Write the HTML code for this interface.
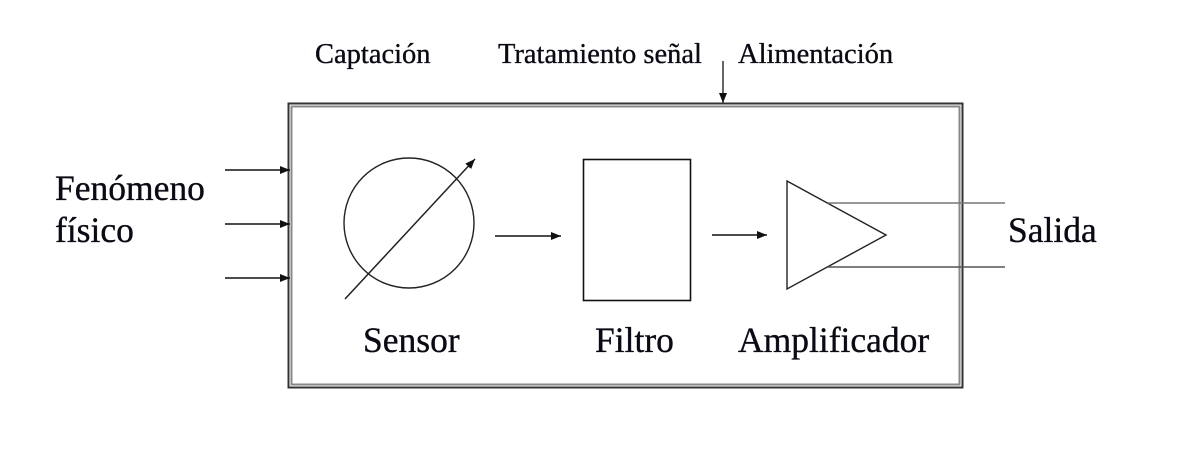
<!DOCTYPE html>
<html>
<head>
<meta charset="utf-8">
<style>
html,body{margin:0;padding:0;background:#fff;}
svg{display:block;}
text{font-family:"Liberation Serif","Times New Roman",serif;fill:#0a0a14;stroke:#0a0a14;stroke-width:0.35px;}
</style>
</head>
<body>
<svg width="1197" height="454" viewBox="0 0 1197 454" xmlns="http://www.w3.org/2000/svg">
<defs>
<marker id="ah" markerWidth="10" markerHeight="8" refX="10" refY="4" orient="auto" markerUnits="userSpaceOnUse">
<path d="M0,0 L10,4 L0,8 Z" fill="#111"/>
</marker>
</defs>
<rect x="0" y="0" width="1197" height="454" fill="#fff"/>

<!-- top labels -->
<text x="315" y="63" font-size="28.5">Captación</text>
<text x="498" y="63" font-size="28.5">Tratamiento señal</text>
<text x="738" y="63" font-size="28.5">Alimentación</text>

<!-- power arrow -->
<line x1="723" y1="61" x2="723" y2="103" stroke="#333" stroke-width="1.5" marker-end="url(#ah)"/>

<!-- main box (double border) -->
<rect x="288.5" y="103.5" width="674" height="284" fill="none" stroke="#333" stroke-width="2"/>
<rect x="291.5" y="106.5" width="668" height="278" fill="none" stroke="#888" stroke-width="2"/>

<!-- inputs -->
<text x="55" y="200" font-size="35.5">Fenómeno</text>
<text x="55" y="242" font-size="35.5">físico</text>
<line x1="225" y1="170" x2="290" y2="170" stroke="#111" stroke-width="1.5" marker-end="url(#ah)"/>
<line x1="225" y1="224" x2="290" y2="224" stroke="#111" stroke-width="1.5" marker-end="url(#ah)"/>
<line x1="225" y1="278" x2="290" y2="278" stroke="#111" stroke-width="1.5" marker-end="url(#ah)"/>

<!-- sensor -->
<circle cx="409" cy="223" r="65" fill="none" stroke="#222" stroke-width="1.4"/>
<line x1="345" y1="299" x2="475" y2="159" stroke="#222" stroke-width="1.5" marker-end="url(#ah)"/>
<text x="363" y="352" font-size="35.5">Sensor</text>

<!-- arrow sensor->filter -->
<line x1="495" y1="236" x2="561" y2="236" stroke="#111" stroke-width="1.5" marker-end="url(#ah)"/>

<!-- filter -->
<rect x="583.5" y="159.5" width="107" height="141" fill="none" stroke="#111" stroke-width="1.6"/>
<text x="595" y="352" font-size="35.5">Filtro</text>

<!-- arrow filter->amp -->
<line x1="712" y1="235" x2="767" y2="235" stroke="#111" stroke-width="1.5" marker-end="url(#ah)"/>

<!-- amplifier -->
<polygon points="787,181 886,235 787,289" fill="none" stroke="#222" stroke-width="1.4"/>
<line x1="828" y1="203" x2="1005" y2="203" stroke="#777" stroke-width="1.5"/>
<line x1="828" y1="267" x2="1005" y2="267" stroke="#555" stroke-width="1.5"/>
<text x="738" y="352" font-size="35.5">Amplificador</text>

<text x="1008" y="242" font-size="35.5">Salida</text>
</svg>
</body>
</html>
